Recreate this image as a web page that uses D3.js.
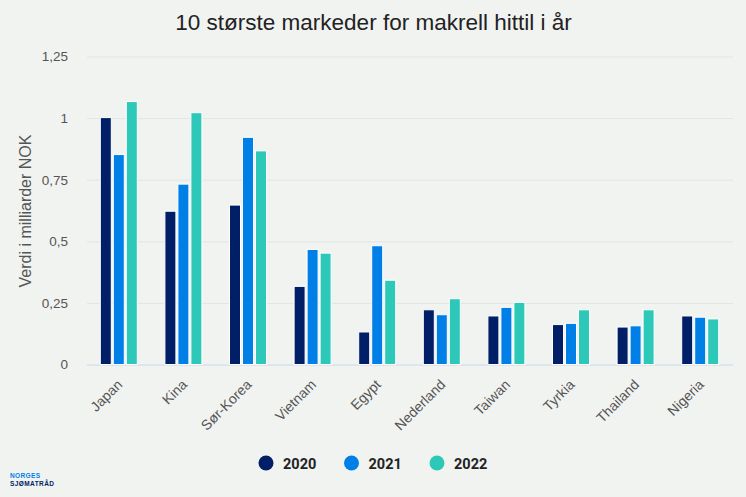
<!DOCTYPE html>
<html lang="no">
<head>
<meta charset="UTF-8">
<title>10 største markeder for makrell hittil i år</title>
<style>
  html, body { margin: 0; padding: 0; background: #f1f3f1; }
  svg { display: block; font-family: "Liberation Sans", Arial, sans-serif; }
  .tick text { fill: #555; }
</style>
</head>
<body>
<div id="main"></div>
<script src="https://cdn.jsdelivr.net/npm/d3@7/dist/d3.min.js"></script>
<script>
  const categories = ['Japan', 'Kina', 'Sør-Korea', 'Vietnam', 'Egypt', 'Nederland', 'Taiwan', 'Tyrkia', 'Thailand', 'Nigeria']
  const years = ['2020', '2021', '2022']
  const values2020 = [1.0, 0.62, 0.645, 0.315, 0.13, 0.22, 0.195, 0.16, 0.15, 0.195]
  const values2021 = [0.85, 0.73, 0.92, 0.465, 0.48, 0.2, 0.23, 0.165, 0.155, 0.19]
  const values2022 = [1.065, 1.02, 0.865, 0.45, 0.34, 0.265, 0.25, 0.22, 0.22, 0.183]
  const yTicks = [0, 0.25, 0.5, 0.75, 1, 1.25]
  const colors = ['#001f66', '#0080e6', '#2ec8b8']

  const width = 746, height = 497
  const margin = { top: 56.5, right: 13, bottom: 132.5, left: 87 }
  const innerH = height - margin.top - margin.bottom

  const svg = d3.select('#main').append('svg')
    .attr('width', width)
    .attr('height', height)

  const x = d3.scaleBand().domain(categories).range([margin.left, width - margin.right])
  const xBars = d3.scaleBand().domain(years).range([-19.5, 19.5])
  const y = d3.scaleLinear().domain([0, 1.25]).range([margin.top + innerH, margin.top])

  // title
  svg.append('text')
    .attr('x', 373.5)
    .attr('y', 30)
    .attr('text-anchor', 'middle')
    .attr('font-size', 22.5)
    .attr('fill', '#222')
    .text('10 største markeder for makrell hittil i år')

  // gridlines + y labels
  const yAxis = svg.append('g')
    .attr('transform', `translate(${margin.left},0)`)
    .call(d3.axisLeft(y)
      .tickValues(yTicks)
      .tickSize(-(width - margin.left - margin.right))
      .tickPadding(19)
      .tickFormat(d => String(d).replace('.', ',')))
  yAxis.select('.domain').remove()
  yAxis.selectAll('text').attr('font-size', 13.5).attr('font-family', 'inherit')
  yAxis.selectAll('line').attr('stroke', d => d === 0 ? '#ccd6eb' : '#e2e5e3')

  svg.append('text')
    .attr('transform', `translate(31,${margin.top + innerH / 2 + 0.5}) rotate(-90)`)
    .attr('text-anchor', 'middle')
    .attr('font-size', 16)
    .attr('fill', '#555')
    .text('Verdi i milliarder NOK')

  // x labels
  const xAxis = svg.append('g')
    .attr('transform', `translate(0,${y(0)})`)
    .call(d3.axisBottom(x).tickSize(0).tickPadding(0))
  xAxis.select('.domain').remove()
  xAxis.selectAll('text')
    .attr('font-size', 14)
    .attr('font-family', 'inherit')
    .attr('text-anchor', 'end')
    .attr('dy', 0)
    .attr('transform', 'translate(4,21) rotate(-45)')

  // bars
  const series = [values2020, values2021, values2022]
  series.forEach((vals, i) => {
    svg.append('g').selectAll('rect')
      .data(vals)
      .join('rect')
      .attr('x', (d, j) => x(categories[j]) + x.bandwidth() / 2 + xBars(years[i]) + 0.5)
      .attr('y', d => y(d) - 0.5)
      .attr('width', xBars.bandwidth() - 2)
      .attr('height', d => y(0) - y(d) + 0.5)
      .attr('fill', colors[i])
      .attr('stroke', '#fff')
      .attr('stroke-width', 1)
  })

  // legend
  const legendX = d3.scalePoint().domain(years).range([266, 437])
  const legend = svg.append('g').selectAll('g')
    .data(years)
    .join('g')
    .attr('transform', d => `translate(${legendX(d)},463)`)
  legend.append('circle')
    .attr('r', 7.5)
    .attr('fill', (d, i) => colors[i])
  legend.append('text')
    .attr('x', 17)
    .attr('y', 5.5)
    .attr('font-size', 14.5)
    .attr('font-weight', 700)
    .attr('font-family', 'Roboto, sans-serif')
    .attr('fill', '#222')
    .text(d => d)

  // logo text
  svg.append('text')
    .attr('x', 10).attr('y', 478)
    .attr('font-size', 6.5).attr('font-weight', 700).attr('fill', '#0080e6')
    .attr('textLength', 30)
    .text('NORGES')
  svg.append('text')
    .attr('x', 10).attr('y', 485.5)
    .attr('font-size', 6.5).attr('font-weight', 700).attr('fill', '#001f66')
    .attr('textLength', 44)
    .text('SJØMATRÅD')
</script>
</body>
</html>
